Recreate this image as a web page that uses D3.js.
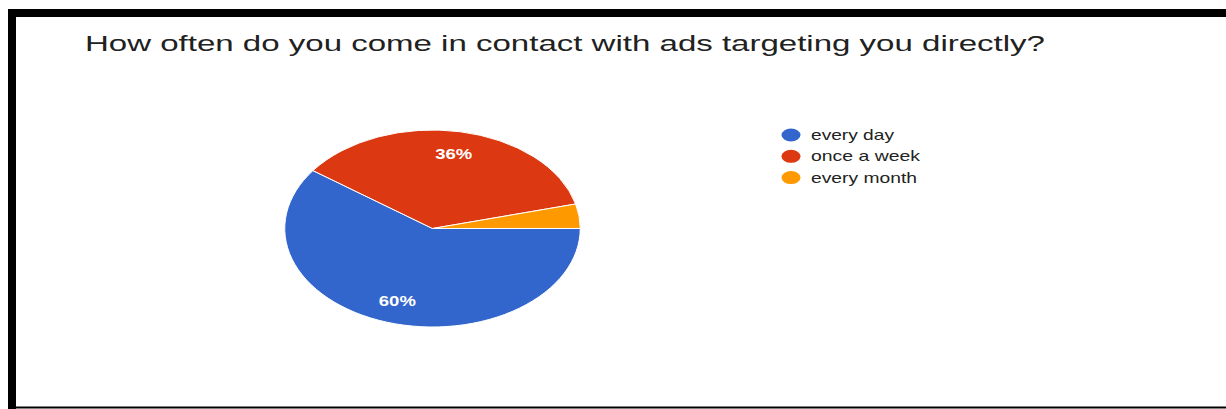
<!DOCTYPE html>
<html>
<head>
<meta charset="utf-8">
<script src="https://cdn.jsdelivr.net/npm/d3@7"></script>
<style>
  html, body { margin: 0; padding: 0; background: #fff; }
  svg { display: block; }
</style>
</head>
<body>
<svg id="chart" width="1226" height="409"></svg>
<script>
// Survey answers and their shares (percent)
const categories = ["every day", "once a week", "every month"];
const shares = [60, 36, 4];
const colors = ["#3366cc", "#dc3912", "#ff9900"];
const titleText = "How often do you come in contact with ads targeting you directly?";

const svg = d3.select("#chart");
const W = 1226, H = 409;

// white page
svg.append("rect").attr("width", W).attr("height", H).attr("fill", "#fff");

// stretch text horizontally to a given width
function fitWidth(sel, width) {
  sel.each(function () {
    const len = this.getComputedTextLength();
    if (len > 0) {
      d3.select(this).attr("textLength", width).attr("lengthAdjust", "spacingAndGlyphs");
    }
  });
}

// title
svg.append("text")
  .attr("x", 85).attr("y", 51)
  .attr("font-family", "'Liberation Sans', Arial, sans-serif")
  .attr("font-size", 22)
  .attr("fill", "#212121")
  .text(titleText)
  .call(fitWidth, 960);

// pie (drawn on a circle, stretched horizontally into an ellipse)
const cx = 432.5, cy = 228.5, r = 98.5, sx = 1.5;
const pie = d3.pie().sort(null).value(d => d)
  .startAngle(Math.PI / 2).endAngle(Math.PI / 2 + 2 * Math.PI);
const arcs = pie(shares);
const arc = d3.arc().innerRadius(0).outerRadius(r);
const labelArc = d3.arc().innerRadius(r * 0.77).outerRadius(r * 0.77);

const g = svg.append("g").attr("transform", `translate(${cx},${cy}) scale(${sx},1)`);
g.selectAll("path").data(arcs).join("path")
  .attr("d", arc)
  .attr("fill", (d, i) => colors[i])
  .attr("stroke", "#fff")
  .attr("stroke-width", 1)
  .attr("vector-effect", "non-scaling-stroke");

// percentage labels on slices large enough to hold them
const labelled = arcs.filter(d => d.data >= 10);
svg.selectAll("text.pct").data(labelled).join("text")
  .attr("class", "pct")
  .attr("x", d => cx + labelArc.centroid(d)[0] * sx)
  .attr("y", d => cy + labelArc.centroid(d)[1] + 5)
  .attr("text-anchor", "middle")
  .attr("font-family", "'Liberation Sans', Arial, sans-serif")
  .attr("font-size", 15)
  .attr("font-weight", "bold")
  .attr("fill", "#fff")
  .text(d => d.data + "%")
  .call(fitWidth, 37);

// legend
const legend = svg.append("g").attr("transform", "translate(791,135)");
const rows = legend.selectAll("g").data(categories).join("g")
  .attr("transform", (d, i) => `translate(0,${i * 21.3})`);
rows.append("ellipse").attr("rx", 9.5).attr("ry", 6.5)
  .attr("fill", (d, i) => colors[i]);
const legendWidths = [83, 109, 106];
rows.append("text")
  .attr("x", 20).attr("y", 5)
  .attr("font-family", "'Liberation Sans', Arial, sans-serif")
  .attr("font-size", 15)
  .attr("fill", "#222")
  .text(d => d)
  .each(function (d, i) { d3.select(this).call(fitWidth, legendWidths[i]); });

// black frame
svg.append("rect").attr("x", 8).attr("y", 9).attr("width", W - 8).attr("height", 8).attr("fill", "#000");
svg.append("rect").attr("x", 8).attr("y", 9).attr("width", 8).attr("height", H - 9).attr("fill", "#000");
svg.append("rect").attr("x", 8).attr("y", 406.5).attr("width", W - 8).attr("height", 2).attr("fill", "#000");
</script>
</body>
</html>
